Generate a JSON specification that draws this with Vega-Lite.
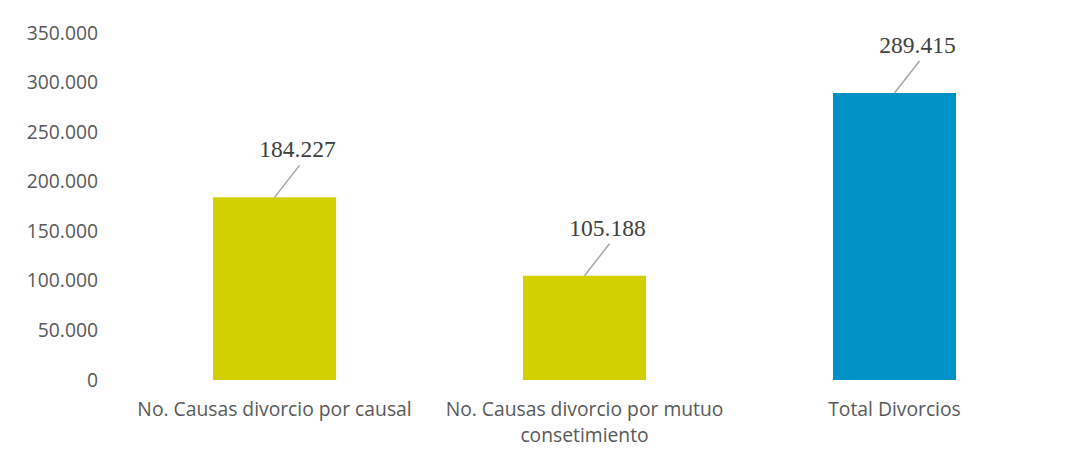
{
  "$schema": "https://vega.github.io/schema/vega-lite/v6.json",
  "width": 930,
  "height": 347,
  "autosize": {"type": "none"},
  "padding": {"left": 119.5, "top": 33, "right": 15.5, "bottom": 82},
  "background": "white",
  "config": {
    "view": {"stroke": null},
    "locale": {"number": {"decimal": ",", "thousands": ".", "grouping": [3], "currency": ["$", ""]}}
  },
  "data": {
    "values": [
      {"cat": "No. Causas divorcio por causal", "value": 184227},
      {"cat": "No. Causas divorcio por mutuo consetimiento", "value": 105188},
      {"cat": "Total Divorcios", "value": 289415}
    ]
  },
  "encoding": {
    "x": {
      "field": "cat",
      "type": "nominal",
      "sort": null,
      "scale": {"paddingInner": 0.603, "paddingOuter": 0.3015},
      "axis": {
        "title": null,
        "domain": false,
        "ticks": false,
        "labelAngle": 0,
        "labelFont": "Open Sans",
        "labelFontSize": 19.3,
        "labelColor": "#595959",
        "labelPadding": 20,
        "labelLineHeight": 26,
        "labelLimit": 400,
        "labelExpr": "datum.label == 'No. Causas divorcio por mutuo consetimiento' ? ['No. Causas divorcio por mutuo', 'consetimiento'] : datum.label"
      }
    },
    "y": {
      "field": "value",
      "type": "quantitative",
      "scale": {"domain": [0, 350000]},
      "axis": {
        "title": null,
        "domain": false,
        "ticks": false,
        "grid": false,
        "values": [0, 50000, 100000, 150000, 200000, 250000, 300000, 350000],
        "format": ",d",
        "labelFont": "Open Sans",
        "labelFontSize": 19.3,
        "labelColor": "#595959",
        "labelPadding": 22
      }
    }
  },
  "layer": [
    {
      "mark": {"type": "bar"},
      "encoding": {
        "color": {
          "field": "cat",
          "type": "nominal",
          "legend": null,
          "scale": {
            "domain": ["No. Causas divorcio por causal", "No. Causas divorcio por mutuo consetimiento", "Total Divorcios"],
            "range": ["#D2D000", "#D2D000", "#0091C7"]
          }
        }
      }
    },
    {
      "mark": {"type": "rule", "color": "#A6A6A6", "strokeWidth": 1.5, "x2Offset": 25, "y2Offset": -32},
      "encoding": {
        "x2": {"field": "cat"},
        "y2": {"field": "value"}
      }
    },
    {
      "mark": {"type": "text", "font": "Liberation Serif", "fontSize": 23.5, "color": "#404040", "dx": 23, "dy": -40, "baseline": "alphabetic", "align": "center"},
      "encoding": {
        "text": {"field": "value", "type": "quantitative", "format": ",d"}
      }
    }
  ]
}
